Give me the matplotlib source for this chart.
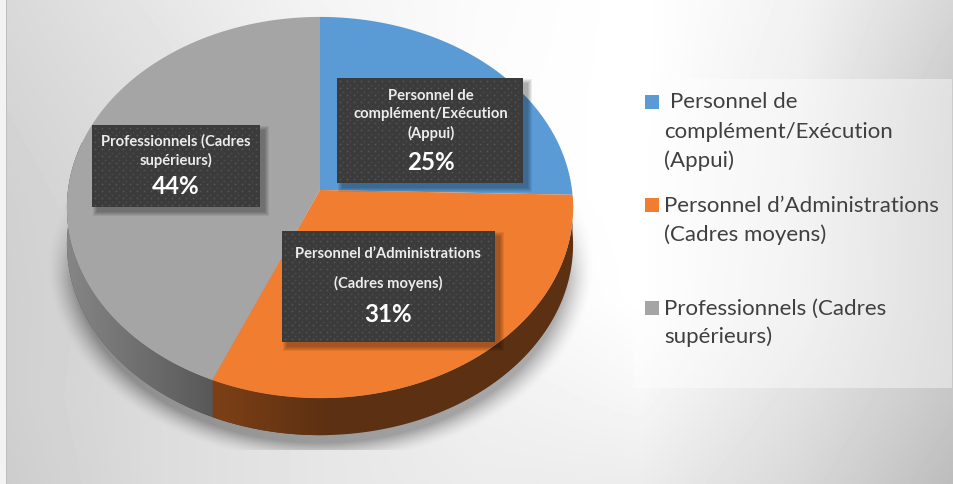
import numpy as np
import matplotlib
matplotlib.use("Agg")
import matplotlib.pyplot as plt
from matplotlib.patches import Rectangle, Polygon

# parts of the pie (percent), labels show them rounded
noms = ["Personnel de\ncomplément/Exécution\n(Appui)",
        "Personnel d’Administrations\n\n(Cadres moyens)",
        "Professionnels (Cadres\nsupérieurs)"]
legende = [["Personnel de", "complément/Exécution", "(Appui)"],
           ["Personnel d’Administrations", "(Cadres moyens)"],
           ["Professionnels (Cadres", "supérieurs)"]]
parts = [25.4, 31.0, 43.6]
couleurs = ["#5b9bd5", "#f17d30", "#a5a5a5"]

W, H = 954, 484
cx, cy = 320., 190.    # centre of the pie on screen
R, S, p = 252., 189., 0.092
ep = 37.

# background greys, rows are y, columns are x
fond_x = [0, 160, 320, 480, 640, 800, 954]
fond_y = [0, 100, 200, 300, 400, 484]
fond_g = [[0xd8, 0xe6, 0xf4, 0xfb, 0xff, 0xf2, 0xd6],
          [0xd4, 0xe0, 0xf0, 0xfc, 0xff, 0xee, 0xca],
          [0xd0, 0xdc, 0xee, 0xfc, 0xff, 0xec, 0xc8],
          [0xcf, 0xda, 0xe8, 0xf6, 0xff, 0xea, 0xc8],
          [0xcf, 0xdc, 0xe6, 0xf0, 0xf6, 0xe0, 0xc6],
          [0xcc, 0xdc, 0xe6, 0xec, 0xec, 0xd8, 0xbc]]


def rim(t):
    # t in degrees, clockwise from the top, circle seen with a bit of perspective
    a = np.radians(t)
    u, v = np.sin(a), -np.cos(a)
    return cx + R*u/(1 - p*v), cy + S*v/(1 - p*v)


def fond():
    xs, ys = np.arange(W), np.arange(H)
    rangs = np.array([np.interp(xs, fond_x, l) for l in fond_g])
    g = np.array([np.interp(ys, fond_y, rangs[:, j]) for j in range(W)]).T
    yy, xx = np.mgrid[0:H, 0:W]
    # pie shadow
    e = np.hypot((xx - 320)/268., (yy - 262)/196.)
    om = np.clip((1.02 - e)/0.10, 0, 1)**1.5
    om = om*np.clip((yy - 190)/90., 0, 1)*(yy < 450)
    g = g - 75*om
    g[:, :6] = 244
    g[:, 6] = 190
    return g


fig = plt.figure(figsize=(W/100, H/100), dpi=100)
ax = fig.add_axes([0, 0, 1, 1])
ax.imshow(fond(), cmap="gray", vmin=0, vmax=255, extent=(0, W, H, 0), aspect="auto", zorder=0)

# slices, walls first
bornes = np.concatenate([[0], np.cumsum(parts)])*3.6
murs = [None, ((125, 64, 22), (92, 48, 18)), ((136, 136, 136), (88, 88, 88))]
murs_x = [None, (213, 330), (60, 213)]
for i in range(1, 3):
    t0, t1 = bornes[i], bornes[i + 1]
    tt = np.linspace(t0, min(t1, 285), 120)
    x, y = rim(tt)
    pts = np.r_[np.c_[x, y], np.c_[x, y + ep][::-1]]
    c0, c1 = np.array(murs[i][0]), np.array(murs[i][1])
    # flat colour under the gradient, for what is past its end
    ax.add_patch(Polygon(pts, closed=True, fc=c1/255, ec="none", zorder=1.9))
    poly = Polygon(pts, closed=True, fc="none", ec="none", zorder=2)
    ax.add_patch(poly)
    grad = np.linspace(0, 1, 200)[None, :, None]
    im = ax.imshow((c0 + (c1 - c0)*grad)/255, extent=(murs_x[i][0], murs_x[i][1], H, 0),
                   aspect="auto", zorder=2)
    im.set_clip_path(poly)
for i in range(3):
    tt = np.linspace(bornes[i], bornes[i + 1], 200)
    x, y = rim(tt)
    ax.fill(np.r_[cx, x], np.r_[cy, y], color=couleurs[i], lw=0, zorder=3)


def boite(x0, y0, x1, y1):
    for k in range(5):
        ax.add_patch(Rectangle((x0 + 5 - k, y0 + 5 - k), x1 - x0 + 2*k, y1 - y0 + 2*k,
                               fc="k", ec="none", alpha=0.07, zorder=4))
    ax.add_patch(Rectangle((x0, y0), x1 - x0, y1 - y0, fc="#3b3b3b", ec="none", zorder=5))
    a, b = np.meshgrid(np.arange(x0 + 3, x1 - 1, 7), np.arange(y0 + 3, y1 - 1, 7))
    ax.plot(a.ravel(), b.ravel(), ls="", marker="s", ms=1.2, mew=0, color="#565656", zorder=6)
    a, b = np.meshgrid(np.arange(x0 + 6.5, x1 - 1, 7), np.arange(y0 + 6.5, y1 - 1, 7))
    ax.plot(a.ravel(), b.ravel(), ls="", marker="s", ms=1.2, mew=0, color="#4c4c4c", zorder=6)


boites = [(337, 78, 523, 183), (282, 231, 495, 342), (92, 125, 260, 207)]
txt_y = [115, 269, 151]
pct_y = [163, 315, 187]
txt_x = [431, 388, 176]
interl = [1.38, 1.0, 1.38]
for i in range(3):
    boite(*boites[i])
    ax.text(txt_x[i], txt_y[i], noms[i], color="#ececec", fontsize=10.6, fontweight="bold",
            ha="center", va="center", linespacing=interl[i], family="Lato", zorder=7)
    ax.text(txt_x[i], pct_y[i], "%d%%" % round(parts[i]), color="white", fontsize=17.4, fontweight="bold",
            ha="center", va="center", family="Lato", zorder=7)

# legend panel
ax.add_patch(Rectangle((633, 79), 319, 309, fc="white", ec="none", alpha=0.42, zorder=1))
carre_y = [95, 198, 301]
base_y = [[108, 138, 167], [212, 241], [315, 343]]
for i in range(3):
    ax.add_patch(Rectangle((645, carre_y[i]), 14, 14, fc=couleurs[i], ec="none", zorder=3))
    for j, ligne in enumerate(legende[i]):
        x = 670 if (i == 0 and j == 0) else 664
        ax.text(x, base_y[i][j], ligne, color="#404040", fontsize=16, ha="left", va="baseline",
                family="Lato", zorder=3)

ax.set_xlim(0, W)
ax.set_ylim(H, 0)
ax.axis("off")
fig.savefig("out.png", dpi=100)
